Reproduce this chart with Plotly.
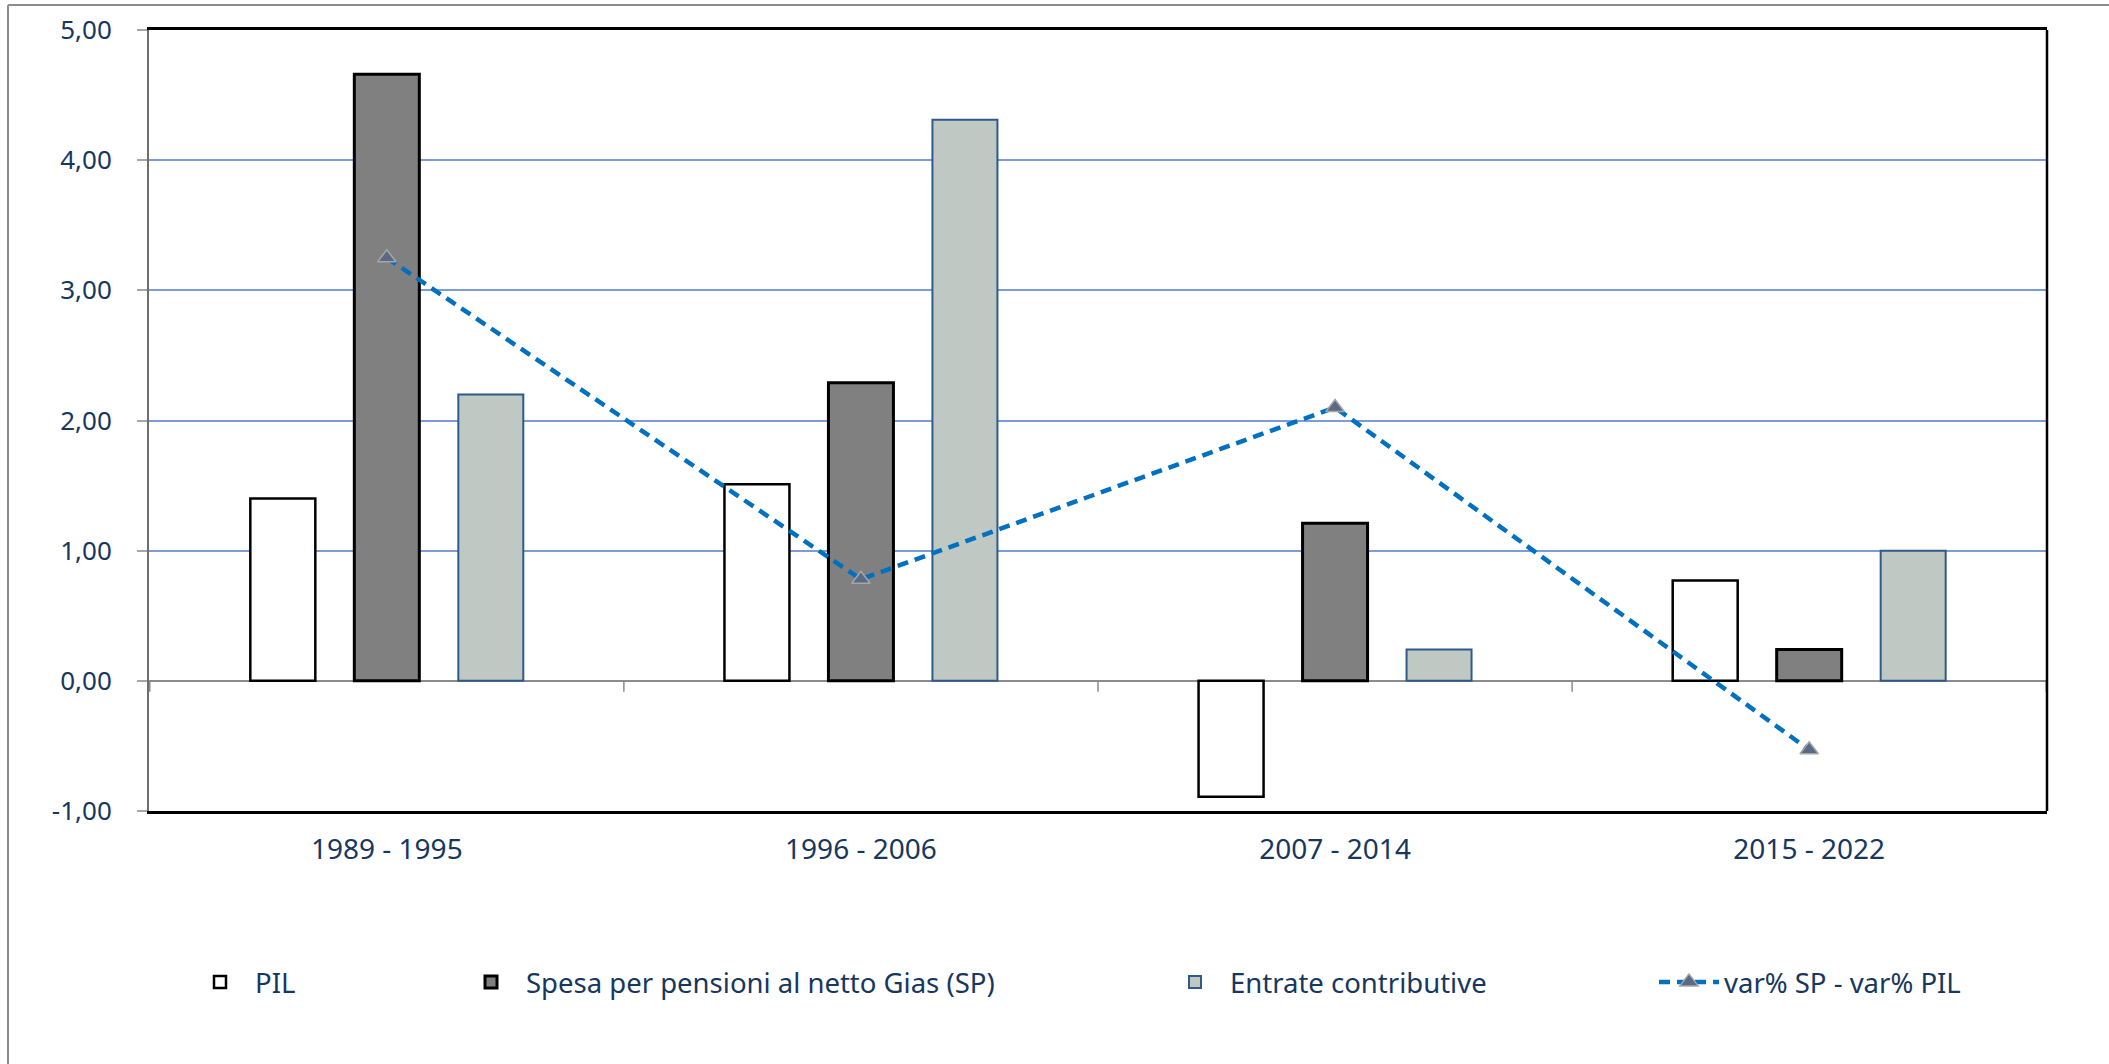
import plotly.graph_objects as go

# data
periods = ["1989 - 1995", "1996 - 2006", "2007 - 2014", "2015 - 2022"]
pil = [1.40, 1.51, -0.89, 0.77]
spesa_pensioni = [4.66, 2.29, 1.21, 0.24]
entrate_contributive = [2.20, 4.31, 0.24, 1.00]
diff_sp_pil = [3.25, 0.78, 2.10, -0.53]

y_ticks = [-1, 0, 1, 2, 3, 4, 5]
y_ticktext = ["-1,00", "0,00", "1,00", "2,00", "3,00", "4,00", "5,00"]

W, H = 2109, 1064
ML, MR, MT, MB = 149, 62, 30, 253
PW, PH = W - ML - MR, H - MT - MB

TEXT = "#17375E"
FONT = "Noto Sans"

fig = go.Figure()

fig.add_trace(go.Bar(
    x=periods, y=pil, name="PIL", legend="legend",
    marker=dict(color="#FFFFFF", line=dict(color="#000000", width=2.5)),
))
fig.add_trace(go.Bar(
    x=periods, y=spesa_pensioni, name="Spesa per pensioni al netto Gias (SP)",
    legend="legend2",
    marker=dict(color="#808080", line=dict(color="#000000", width=3)),
))
fig.add_trace(go.Bar(
    x=periods, y=entrate_contributive, name="Entrate contributive",
    legend="legend3",
    marker=dict(color="#BFC8C3", line=dict(color="#2F5B8A", width=2)),
))
fig.add_trace(go.Scatter(
    x=periods, y=diff_sp_pil, name="var% SP - var% PIL", legend="legend4",
    mode="lines+markers",
    line=dict(color="#0070C0", width=4.5, dash="11px,7px"),
    marker=dict(symbol="triangle-up", size=16, color="#5B6A84",
                line=dict(color="#A6A6A6", width=1.5)),
))


def px_x(px):
    return (px - ML) / PW


def px_y(py):
    return (H - MB - py) / PH


legend_common = dict(
    orientation="h", yanchor="middle", xanchor="left", y=px_y(982),
    font=dict(family=FONT, size=27.5, color=TEXT), itemwidth=60,
    bgcolor="rgba(0,0,0,0)",
)
text_starts = [255, 526, 1230, 1724]
legend_keys = ["legend", "legend2", "legend3", "legend4"]
legend_layout = {k: dict(legend_common, x=px_x(t - 70)) for k, t in zip(legend_keys, text_starts)}

shapes = []
# small tick marks on the zero line at category boundaries
for i in range(len(periods) + 1):
    shapes.append(dict(
        type="line", xref="x", yref="y", ysizemode="pixel", yanchor=0,
        x0=i - 0.5, x1=i - 0.5, y0=0, y1=-11,
        line=dict(color="#8C8C8C", width=1.5),
    ))
# right border of the plot area
shapes.append(dict(type="line", xref="paper", yref="paper", x0=1, x1=1, y0=0, y1=1,
                   line=dict(color="#000000", width=2.5)))
# outer chart frame (top and left edges)
shapes.append(dict(type="line", xref="paper", yref="paper",
                   x0=px_x(8), x1=px_x(W + 5), y0=px_y(5), y1=px_y(5),
                   line=dict(color="#8C8C8C", width=2)))
shapes.append(dict(type="line", xref="paper", yref="paper",
                   x0=px_x(8), x1=px_x(8), y0=px_y(5), y1=px_y(H + 5),
                   line=dict(color="#8C8C8C", width=2)))

fig.update_layout(
    width=W, height=H,
    margin=dict(l=ML, r=MR, t=MT, b=MB, autoexpand=False),
    paper_bgcolor="#FFFFFF", plot_bgcolor="#FFFFFF",
    barmode="group", bargap=0.342, bargroupgap=0.375,
    font=dict(family=FONT, size=26, color=TEXT),
    showlegend=True,
    shapes=shapes,
    **legend_layout,
)

fig.update_xaxes(
    type="category",
    showline=True, linecolor="#000000", linewidth=2.5, mirror=True,
    showgrid=False, ticks="", ticklabelstandoff=12,
    tickfont=dict(family=FONT, size=28, color=TEXT),
)
fig.update_yaxes(
    range=[-1, 5], tickvals=y_ticks, ticktext=y_ticktext,
    showline=True, linecolor="#6E6E6E", linewidth=2,
    showgrid=True, gridcolor="#7B9BD9", gridwidth=1.5,
    zeroline=True, zerolinecolor="#8C8C8C", zerolinewidth=1.5,
    ticks="outside", ticklen=10, tickcolor="#A6A6A6", tickwidth=1.5,
    ticklabelstandoff=20,
    tickfont=dict(family=FONT, size=26, color=TEXT),
)

# drop the browser's default body margin so the figure sits at the window origin
fig.write_html(
    "out.html",
    config={"displayModeBar": False},
    post_script="document.body.style.margin = '0px';",
)
